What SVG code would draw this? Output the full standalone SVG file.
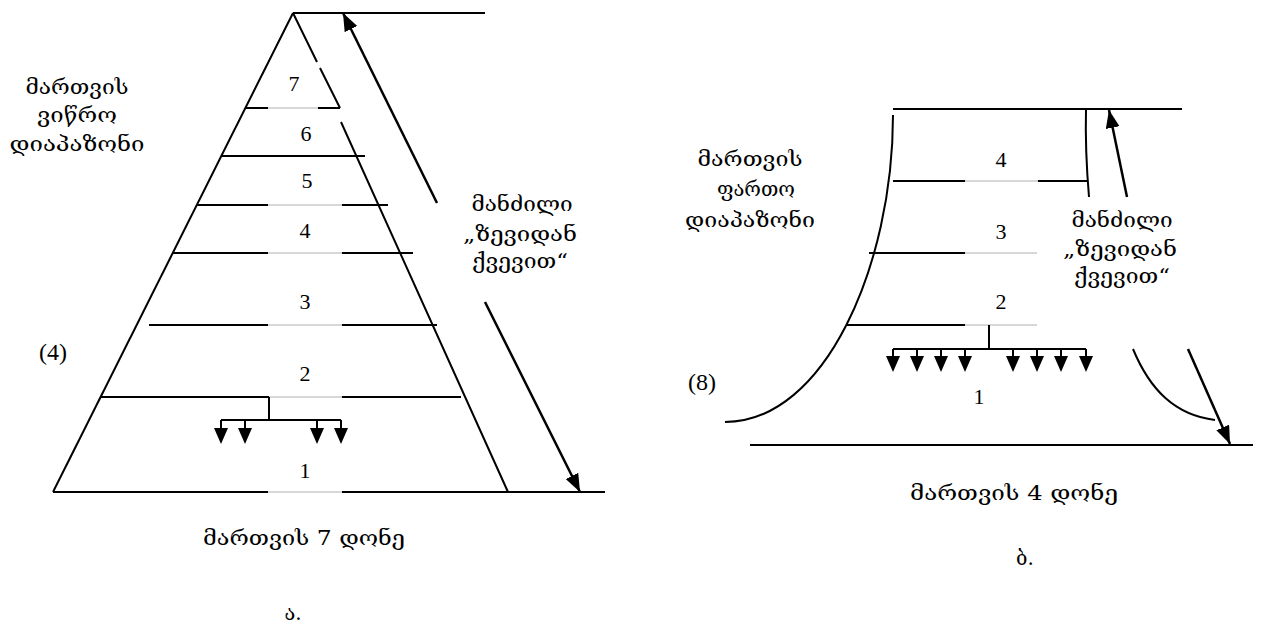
<svg xmlns="http://www.w3.org/2000/svg" width="1261" height="626" viewBox="0 0 1261 626">
<style>
  .ln{stroke:#000;stroke-width:2;fill:none}
  .gr{stroke:#b0b0b0;stroke-width:1;fill:none}
  .ar{stroke:#000;stroke-width:2.5;fill:none}
  .geo{font-family:"DejaVu Serif","DejaVu Sans","Noto Sans",serif;font-size:20px;fill:#000;text-anchor:middle}
  .num{font-family:"Liberation Serif","Times New Roman",serif;font-size:22px;fill:#000;text-anchor:middle}
  .par{font-family:"Liberation Serif","Times New Roman",serif;font-size:24px;fill:#000;text-anchor:middle}
  .tri{fill:#000;stroke:none}
</style>
<defs>
  <marker id="ah" markerUnits="userSpaceOnUse" markerWidth="20" markerHeight="16" refX="18" refY="7" orient="auto">
    <path d="M0,0 L18,7 L0,14 z" fill="#000"/>
  </marker>
  <path id="dn" d="M-7,0 L7,0 L0,16 z"/>
</defs>

<!-- LEFT DIAGRAM (a) -->
<g id="pyramid">
  <path class="ln" d="M293,13 L485,13"/>
  <path class="ln" d="M293,13 L53,492"/>
  <path class="ln" d="M293,13 L317,62 M320,68 L340,108 M341,122 L508,492"/>
  <path class="ln" d="M53,492 L268,492 M342,492 L605,492"/>
  <path class="gr" d="M268,492 L342,492"/>
</g>
<g id="level-lines-a">
  <path class="ln" d="M245,108 L268,108 M318,108 L340,108"/>
  <path class="gr" d="M268,108 L318,108"/>
  <path class="ln" d="M222,156 L365,156"/>
  <path class="ln" d="M197,205 L268,205 M342,205 L388,205"/>
  <path class="gr" d="M268,205 L342,205"/>
  <path class="ln" d="M173,253 L268,253 M342,253 L413,253"/>
  <path class="gr" d="M268,253 L342,253"/>
  <path class="ln" d="M149,325 L268,325 M342,325 L437,325"/>
  <path class="gr" d="M268,325 L342,325"/>
  <path class="ln" d="M101,397 L269,397 M342,397 L461,397"/>
  <path class="gr" d="M269,397 L342,397"/>
</g>
<g id="tree-a">
  <path class="ln" d="M269,397 L269,420 M221,420 L341,420 M221,420 L221,429 M245,420 L245,429 M317,420 L317,429 M341,420 L341,429"/>
  <use href="#dn" class="tri" x="221" y="428"/>
  <use href="#dn" class="tri" x="245" y="428"/>
  <use href="#dn" class="tri" x="317" y="428"/>
  <use href="#dn" class="tri" x="341" y="428"/>
</g>
<g id="labels-a">
  <text class="num" x="294" y="91">7</text>
  <text class="num" x="306" y="141">6</text>
  <text class="num" x="307" y="188">5</text>
  <text class="num" x="305" y="238">4</text>
  <text class="num" x="305" y="309">3</text>
  <text class="num" x="305" y="381">2</text>
  <text class="num" x="305" y="478">1</text>
  <text class="par" x="53" y="360">(4)</text>
</g>
<g id="text-narrow">
  <text class="geo" x="77" y="94" textLength="103" lengthAdjust="spacingAndGlyphs">მართვის</text>
  <text class="geo" x="77" y="122" textLength="80" lengthAdjust="spacingAndGlyphs">ვიწრო</text>
  <text class="geo" x="77" y="151" textLength="135" lengthAdjust="spacingAndGlyphs">დიაპაზონი</text>
</g>
<g id="text-distance-a">
  <text class="geo" x="522" y="211" textLength="101" lengthAdjust="spacingAndGlyphs">მანძილი</text>
  <text class="geo" x="520" y="241" textLength="114" lengthAdjust="spacingAndGlyphs">„ზევიდან</text>
  <text class="geo" x="520" y="268" textLength="96" lengthAdjust="spacingAndGlyphs">ქვევით“</text>
</g>
<g id="caption-a">
  <text class="geo" x="304" y="545" textLength="202" lengthAdjust="spacingAndGlyphs">მართვის 7 დონე</text>
  <text class="geo" x="293" y="620">ა.</text>
</g>

<!-- RIGHT DIAGRAM (b) -->
<g id="vase">
  <path class="ln" d="M893,109 L1182,109"/>
  <path class="ln" d="M893,115 C893,265 825,422 725,422"/>
  <path class="ln" d="M1086,109 Q1085,150 1089,197"/>
  <path class="ln" d="M1133,349 C1150,390 1175,415 1215,420"/>
  <path class="ln" d="M750,445 L1253,445"/>
</g>
<g id="level-lines-b">
  <path class="ln" d="M893,181 L965,181 M1038,181 L1087,181"/>
  <path class="gr" d="M965,181 L1038,181"/>
  <path class="ln" d="M869,253 L965,253"/>
  <path class="gr" d="M965,253 L1037,253"/>
  <path class="ln" d="M847,325 L965,325"/>
  <path class="gr" d="M965,325 L1037,325"/>
</g>
<g id="tree-b">
  <path class="ln" d="M989,325 L989,349 M893,349 L1086,349 M893,349 L893,358 M917,349 L917,358 M941,349 L941,358 M965,349 L965,358 M1013,349 L1013,358 M1037,349 L1037,358 M1061,349 L1061,358 M1086,349 L1086,358"/>
  <use href="#dn" class="tri" x="893" y="356"/>
  <use href="#dn" class="tri" x="917" y="356"/>
  <use href="#dn" class="tri" x="941" y="356"/>
  <use href="#dn" class="tri" x="965" y="356"/>
  <use href="#dn" class="tri" x="1013" y="356"/>
  <use href="#dn" class="tri" x="1037" y="356"/>
  <use href="#dn" class="tri" x="1061" y="356"/>
  <use href="#dn" class="tri" x="1086" y="356"/>
</g>
<g id="labels-b">
  <text class="num" x="1001" y="167">4</text>
  <text class="num" x="1001" y="239">3</text>
  <text class="num" x="1001" y="309">2</text>
  <text class="num" x="979" y="404">1</text>
  <text class="par" x="702" y="390">(8)</text>
</g>
<g id="text-wide">
  <text class="geo" x="750" y="166" textLength="105" lengthAdjust="spacingAndGlyphs">მართვის</text>
  <text class="geo" x="756" y="196" textLength="78" lengthAdjust="spacingAndGlyphs">ფართო</text>
  <text class="geo" x="750" y="227" textLength="130" lengthAdjust="spacingAndGlyphs">დიაპაზონი</text>
</g>
<g id="text-distance-b">
  <text class="geo" x="1122" y="227" textLength="101" lengthAdjust="spacingAndGlyphs">მანძილი</text>
  <text class="geo" x="1120" y="256" textLength="114" lengthAdjust="spacingAndGlyphs">„ზევიდან</text>
  <text class="geo" x="1122" y="283" textLength="96" lengthAdjust="spacingAndGlyphs">ქვევით“</text>
</g>
<g id="caption-b">
  <text class="geo" x="1014" y="500" textLength="208" lengthAdjust="spacingAndGlyphs">მართვის 4 დონე</text>
  <text class="geo" x="1025" y="565">ბ.</text>
</g>

<g id="connectors">
  <path class="ar" d="M437,203 L343,13" marker-end="url(#ah)"/>
  <path class="ar" d="M485,302 L580,492" marker-end="url(#ah)"/>
  <path class="ar" d="M1127,197 L1109,110" marker-end="url(#ah)"/>
  <path class="ar" d="M1188,349 L1230,444" marker-end="url(#ah)"/>
</g>
</svg>
